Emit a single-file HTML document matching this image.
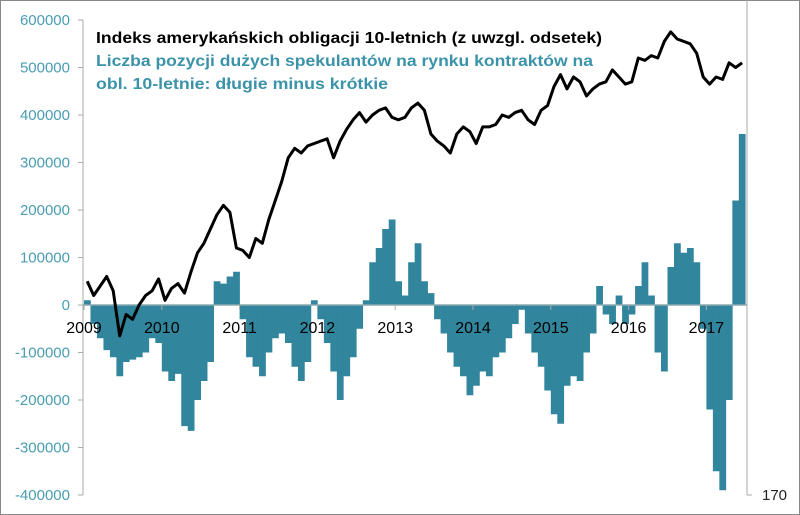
<!DOCTYPE html>
<html><head><meta charset="utf-8">
<style>
html,body{margin:0;padding:0;background:#fff;}
svg{display:block;font-family:"Liberation Sans",sans-serif;}
</style></head>
<body>
<svg id="chart" width="800" height="515" viewBox="0 0 800 515">
<rect x="0.5" y="0.5" width="799" height="514" fill="#fff" stroke="#888"/>
<g id="bars"></g>
<g id="yaxis"></g>
<g id="xaxis"></g>
<path id="line" fill="none" stroke="#000" stroke-width="3" stroke-linejoin="round"/>
<line x1="747" y1="0" x2="747" y2="495" stroke="#aaa"/>
<line x1="747" y1="495" x2="752" y2="495" stroke="#aaa"/>
<text x="762" y="500" font-size="15" fill="#222">170</text>
<text x="96" y="43" font-size="16" font-weight="bold" fill="#000" textLength="506" lengthAdjust="spacingAndGlyphs">Indeks amerykańskich obligacji 10-letnich (z uwzgl. odsetek)</text>
<text x="96" y="66" font-size="16" font-weight="bold" fill="#3a93a8" textLength="497" lengthAdjust="spacingAndGlyphs">Liczba pozycji dużych spekulantów na rynku kontraktów na</text>
<text x="96" y="89" font-size="16" font-weight="bold" fill="#3a93a8" textLength="292" lengthAdjust="spacingAndGlyphs">obl. 10-letnie: długie minus krótkie</text>
</svg>
<script>
const startYear = 2009;
const years = ["2009","2010","2011","2012","2013","2014","2015","2016","2017"];
const yTicks = [600000,500000,400000,300000,200000,100000,0,-100000,-200000,-300000,-400000];
const netPositions = [
 10000,-40000,-70000,-95000,-110000,-150000,-120000,-115000,-110000,-100000,-70000,-80000,
 -140000,-160000,-145000,-255000,-265000,-200000,-160000,-120000,50000,45000,60000,70000,
 -30000,-110000,-130000,-150000,-100000,-70000,-60000,-80000,-130000,-160000,-120000,10000,
 -30000,-80000,-140000,-200000,-150000,-110000,-50000,10000,90000,120000,160000,180000,
 50000,20000,90000,130000,50000,25000,-30000,-60000,-100000,-130000,-150000,-190000,
 -170000,-140000,-150000,-110000,-100000,-70000,-40000,-10000,-60000,-100000,-130000,-180000,
 -230000,-250000,-170000,-150000,-160000,-100000,-60000,40000,-20000,-40000,20000,-40000,
 -20000,40000,90000,20000,-100000,-140000,80000,130000,110000,120000,90000,-50000,
 -220000,-350000,-390000,-200000,220000,360000
];
const bondIndex = [
 50000,20000,40000,60000,30000,-65000,-20000,-30000,0,20000,30000,55000,
 10000,35000,45000,25000,70000,110000,130000,160000,190000,210000,195000,120000,
 115000,100000,140000,130000,180000,220000,260000,310000,330000,320000,335000,340000,
 345000,350000,310000,345000,370000,390000,405000,385000,400000,410000,415000,395000,
 390000,395000,415000,425000,410000,360000,345000,335000,320000,360000,375000,365000,
 340000,375000,375000,380000,400000,395000,405000,410000,390000,380000,410000,420000,
 460000,485000,455000,480000,470000,440000,455000,465000,470000,495000,480000,465000,
 470000,520000,515000,525000,520000,555000,575000,560000,555000,550000,530000,480000,
 465000,480000,475000,510000,500000,510000
];
const X0=84, PX_YEAR=77.8, Y0=305, PX_PER=47.5/100000;
const xOf = i => X0 + PX_YEAR*(i/12);
const yOf = v => Y0 - v*PX_PER;
const NS="http://www.w3.org/2000/svg";
const bars=document.getElementById('bars');
const bw=PX_YEAR/12;
netPositions.forEach((v,i)=>{
  const r=document.createElementNS(NS,'rect');
  r.setAttribute('x',xOf(i));
  r.setAttribute('width',Math.min(bw+0.3, 746-xOf(i)));
  r.setAttribute('y',Math.min(yOf(v),Y0));
  r.setAttribute('height',Math.abs(yOf(v)-Y0));
  r.setAttribute('fill','#31859c');
  
  
  bars.appendChild(r);
});
const ya=document.getElementById('yaxis');
const al=document.createElementNS(NS,'line');
al.setAttribute('x1',83);al.setAttribute('x2',83);al.setAttribute('y1',yOf(600000));al.setAttribute('y2',yOf(-400000));
al.setAttribute('stroke','#aaa');


ya.appendChild(al);
yTicks.forEach(t=>{
  const tk=document.createElementNS(NS,'line');
  tk.setAttribute('x1',78);tk.setAttribute('x2',83);tk.setAttribute('y1',yOf(t));tk.setAttribute('y2',yOf(t));
  tk.setAttribute('stroke','#aaa');
  
  
  ya.appendChild(tk);
  const tx=document.createElementNS(NS,'text');
  tx.setAttribute('x',70);tx.setAttribute('y',yOf(t)+5);
  tx.setAttribute('text-anchor','end');tx.setAttribute('font-size','15');tx.setAttribute('fill','#4a9db2');
  tx.textContent=String(t);
  
  
  ya.appendChild(tx);
});
const xa=document.getElementById('xaxis');
const zl=document.createElementNS(NS,'line');
zl.setAttribute('x1',83);zl.setAttribute('x2',747);zl.setAttribute('y1',Y0);zl.setAttribute('y2',Y0);
zl.setAttribute('stroke','#8aa9b2');zl.setAttribute('stroke-width','1.5');


xa.appendChild(zl);
years.forEach((y,k)=>{
  const x=xOf(k*12);
  const tk=document.createElementNS(NS,'line');
  tk.setAttribute('x1',x);tk.setAttribute('x2',x);tk.setAttribute('y1',Y0);tk.setAttribute('y2',Y0+5);
  tk.setAttribute('stroke','#aaa');
  
  
  xa.appendChild(tk);
  const tx=document.createElementNS(NS,'text');
  tx.setAttribute('x',x);tx.setAttribute('y',Y0+28);
  tx.setAttribute('text-anchor','middle');tx.setAttribute('font-size','16');tx.setAttribute('fill','#000');
  tx.textContent=y;
  
  
  xa.appendChild(tx);
});
let d='';
bondIndex.forEach((v,i)=>{d+=(i?'L':'M')+(xOf(i)+bw/2).toFixed(1)+','+yOf(v).toFixed(1);});
document.getElementById('line').setAttribute('d',d);
</script>
</body></html>
